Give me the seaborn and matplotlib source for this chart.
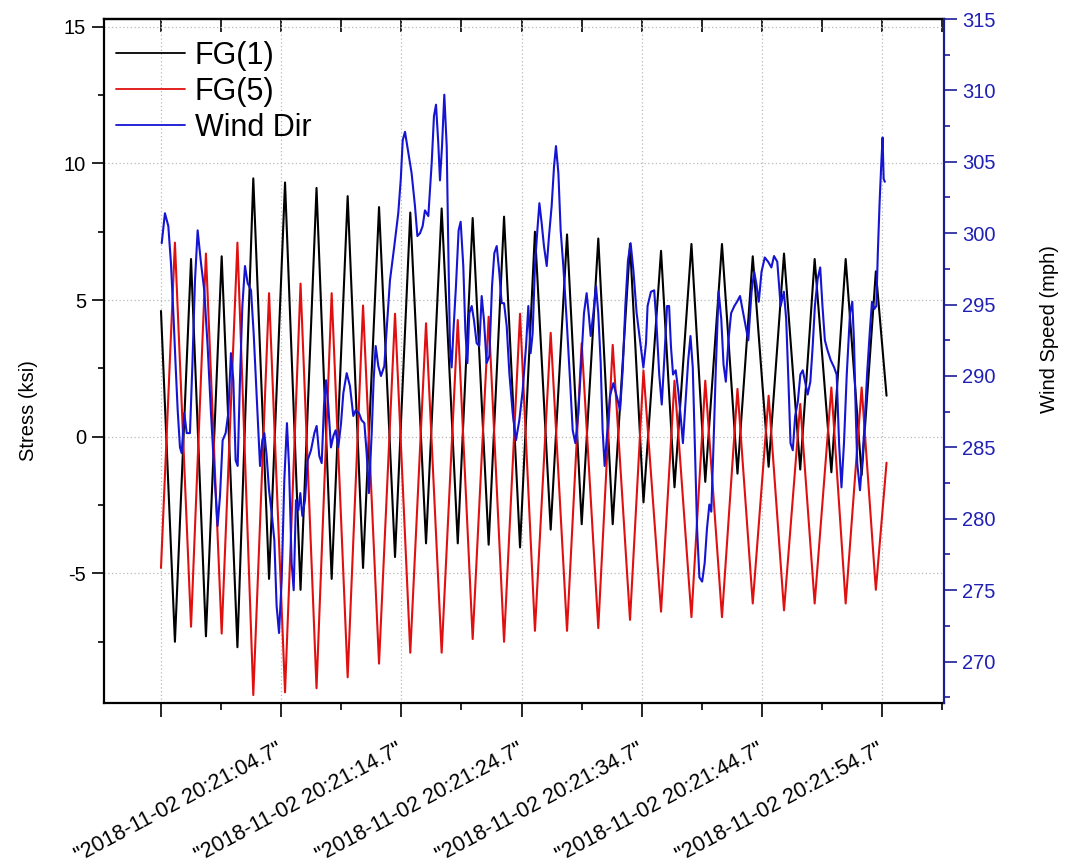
import matplotlib
matplotlib.use("Agg")
import matplotlib.pyplot as plt
from matplotlib.lines import Line2D
from matplotlib.ticker import MultipleLocator, FixedLocator, NullFormatter
from matplotlib.transforms import ScaledTranslation, blended_transform_factory
import seaborn as sns

# Seconds after 2018-11-02 20:21:04.7 of each stress peak / trough
cycle_t = [0.00, 1.16, 2.50, 3.74, 5.05, 6.36, 7.68, 8.99, 10.32, 11.61,
           12.94, 14.20, 15.53, 16.81, 18.14, 19.47, 20.74, 22.05, 23.35, 24.69,
           25.93, 27.26, 28.54, 29.87, 31.11, 32.42, 33.78, 35.00, 36.38, 37.58,
           39.02, 40.14, 41.60, 42.72, 44.13, 45.28, 46.67, 47.96, 49.23, 50.55,
           51.83, 53.18, 54.38, 55.77, 56.96, 58.29, 59.47, 60.36]

# Stress at gauge FG(1) (ksi)
fg1 = [4.6, -7.5, 6.5, -7.3, 6.6, -7.7, 9.45, -5.2, 9.3, -5.6,
       9.1, -5.2, 8.8, -4.8, 8.4, -4.4, 8.2, -3.9, 8.35, -3.9,
       8.0, -3.95, 8.05, -4.05, 7.5, -3.4, 7.4, -3.2, 7.25, -3.2,
       7.05, -2.4, 6.8, -1.85, 7.05, -1.65, 7.05, -1.35, 6.6, -1.1,
       6.7, -1.2, 6.5, -1.3, 6.5, -1.4, 6.05, 1.5]

# Stress at gauge FG(5) (ksi)
fg5 = [-4.8, 7.1, -6.95, 6.7, -7.2, 7.1, -9.45, 5.25, -9.35, 5.6,
       -9.2, 5.25, -8.8, 4.8, -8.3, 4.5, -7.9, 4.15, -7.9, 4.27,
       -7.4, 4.39, -7.5, 4.5, -7.1, 3.8, -7.1, 3.42, -7.0, 3.36,
       -6.7, 2.42, -6.4, 2.05, -6.6, 2.05, -6.6, 1.75, -6.1, 1.5,
       -6.35, 1.2, -6.1, 1.8, -6.1, 1.8, -5.6, -0.95]

# Wind record: seconds after 20:21:04.7 and direction reading
wind_t = [0.06, 0.33, 0.61, 0.83, 1.03, 1.22, 1.39, 1.58, 1.72, 1.94,
          2.14, 2.41, 2.61, 2.83, 3.05, 3.33, 3.60, 3.88, 4.16, 4.44,
          4.71, 4.91, 5.13, 5.38, 5.60, 5.82, 6.02, 6.21, 6.38, 6.57,
          6.77, 6.99, 7.21, 7.49, 7.71, 7.96, 8.24, 8.43, 8.60, 8.79,
          8.99, 9.21, 9.43, 9.62, 9.82, 10.04, 10.26, 10.48, 10.65, 10.87,
          11.04, 11.23, 11.43, 11.59, 11.76, 11.98, 12.20, 12.48, 12.76, 12.95,
          13.17, 13.37, 13.56, 13.73, 13.92, 14.14, 14.34, 14.53, 14.75, 14.98,
          15.17, 15.45, 15.72, 16.00, 16.20, 16.47, 16.69, 16.92, 17.11, 17.30,
          17.53, 17.69, 17.86, 18.08, 18.30, 18.58, 18.77, 19.05, 19.41, 19.74,
          19.95, 20.11, 20.30, 20.58, 20.85, 21.13, 21.33, 21.55, 21.77, 21.96,
          22.24, 22.52, 22.71, 22.88, 23.07, 23.21, 23.38, 23.57, 23.77, 23.90,
          24.04, 24.18, 24.32, 24.54, 24.76, 24.93, 25.15, 25.32, 25.49, 25.65,
          25.85, 26.04, 26.26, 26.48, 26.68, 26.87, 27.09, 27.32, 27.54, 27.73,
          27.93, 28.15, 28.34, 28.54, 28.76, 28.98, 29.26, 29.53, 29.81, 30.09,
          30.37, 30.56, 30.75, 30.92, 31.11, 31.31, 31.48, 31.67, 31.86, 32.09,
          32.28, 32.50, 32.70, 32.86, 33.06, 33.25, 33.47, 33.75, 34.03, 34.25,
          34.47, 34.72, 35.00, 35.19, 35.41, 35.58, 35.75, 35.97, 36.19, 36.38,
          36.58, 36.74, 36.91, 37.13, 37.35, 37.63, 37.91, 38.19, 38.41, 38.63,
          38.85, 39.07, 39.30, 39.57, 39.85, 40.13, 40.35,
          40.48, 40.76, 41.03, 41.22, 41.45, 41.66, 41.88, 42.10, 42.27, 42.43,
          42.60, 42.82, 43.04, 43.23, 43.42, 43.64, 43.86, 44.05, 44.24, 44.41,
          44.60, 44.79, 45.02, 45.23, 45.42, 45.62, 45.78, 45.97, 46.16, 46.39,
          46.61, 46.80, 46.99, 47.21, 47.43, 47.70, 47.92, 48.17, 48.44, 48.64,
          48.86, 49.13, 49.35, 49.54, 49.73, 49.96, 50.23, 50.51, 50.78, 51.00,
          51.27, 51.55, 51.82, 52.01, 52.20, 52.37, 52.56, 52.76, 52.98, 53.19,
          53.39, 53.58, 53.80, 54.02, 54.21, 54.40, 54.63, 54.84, 55.03, 55.23,
          55.45, 55.72, 56.00, 56.21, 56.41, 56.61, 56.82, 57.05, 57.32, 57.51,
          57.65, 57.79, 57.92, 58.15, 58.34, 58.53, 58.74, 58.96, 59.15, 59.35,
          59.51, 59.63, 59.78, 59.93, 60.03, 60.12, 60.22]

wind_dir = [299.3, 301.4, 300.5, 297.9, 294.4, 290.7, 287.6, 285.0, 284.6, 287.4,
            286.0, 286.0, 290.7, 296.7, 300.2, 297.9, 296.0, 292.1, 287.4, 283.2,
            279.5, 281.6, 285.5, 286.0, 287.4, 291.6, 289.7, 284.1, 283.7, 289.7,
            294.9, 297.7, 296.5, 296.0, 293.0, 288.6, 283.7, 285.5, 286.0, 284.4,
            282.0, 280.4, 278.5, 273.9, 272.0, 275.7, 282.7, 286.7, 283.7, 276.9,
            275.0, 281.3, 280.6, 281.8, 280.2, 281.3, 284.1, 284.8, 286.0, 286.5,
            284.4, 283.9, 287.9, 289.7, 287.9, 285.0, 285.8, 286.2, 285.0, 286.7,
            288.8, 290.2, 289.3, 287.2, 287.6, 287.4, 286.9, 286.7, 284.6, 281.8,
            286.0, 289.7, 292.1, 290.7, 290.0, 290.7, 293.2, 296.7, 299.1, 301.4,
            303.8, 306.5, 307.1, 305.6, 304.2, 301.9, 299.8, 300.0, 300.5, 301.6,
            301.2, 304.9, 308.2, 309.0, 306.3, 303.7, 306.1, 309.7, 306.1, 299.1,
            292.1, 290.6, 293.0, 296.3, 300.2, 300.8, 297.7, 293.2, 290.9, 294.4,
            294.9, 293.9, 292.3, 292.1, 295.6, 293.9, 290.9, 291.4, 296.3, 298.6,
            299.1, 297.2, 295.1, 295.1, 293.5, 290.2, 287.4, 285.5, 286.9, 289.0,
            292.1, 294.9, 291.6, 293.0, 297.7, 300.2, 302.1, 300.7, 299.1, 297.7,
            299.8, 301.9, 304.7, 306.1, 304.2, 300.2, 297.7, 293.9, 289.7, 286.2,
            285.3, 287.4, 291.6, 294.4, 295.8, 294.4, 292.8, 294.4, 296.3, 294.4,
            290.9, 286.2, 283.7, 286.2, 288.6, 289.5, 288.6, 287.6, 290.4, 294.9,
            298.1, 299.3, 297.4, 294.4, 292.5, 290.6, 292.3,
            294.9, 295.9, 296.0, 293.7, 290.1, 288.0, 291.3, 294.9, 294.9, 292.0,
            290.1, 290.4, 288.9, 287.2, 285.3, 288.2, 291.1, 292.8, 290.6, 285.3,
            279.3, 275.9, 275.6, 276.9, 279.3, 281.0, 280.5, 285.3, 290.6, 295.9,
            294.0, 290.8, 289.6, 292.5, 294.4, 294.9, 295.2, 295.6, 294.4, 293.5,
            292.5, 295.9, 297.3, 296.4, 295.2, 297.3, 298.3, 298.0, 297.6, 298.4,
            298.0, 294.9, 295.9, 294.0, 289.6, 285.3, 284.8, 287.2, 288.2, 290.1,
            290.4, 289.6, 288.7, 289.6, 292.0, 294.9, 296.8, 297.6, 294.9, 292.5,
            291.8, 291.1, 290.6, 290.1, 285.3, 282.2, 285.3, 290.1, 294.4, 295.2,
            292.5, 287.7, 283.9, 282.0, 284.1, 286.5, 290.1, 293.0, 295.2, 294.7,
            294.9, 298.5, 302.1, 305.0, 306.7, 303.8, 303.6]

tick_seconds = [0, 10, 20, 30, 40, 50, 60]
tick_labels = ['"2018-11-02 20:21:04.7"', '"2018-11-02 20:21:14.7"',
               '"2018-11-02 20:21:24.7"', '"2018-11-02 20:21:34.7"',
               '"2018-11-02 20:21:44.7"', '"2018-11-02 20:21:54.7"', '']
series_names = ["FG(1)", "FG(5)", "Wind Dir"]

BLACK = "#000000"
RED = "#e01010"
BLUE = "#1414d2"
AXIS_BLUE = "#1c1c96"
LABEL_BLUE = "#2020b4"
GRID = "#b9b9b9"

sns.set_theme(style="white")
plt.rcParams["font.family"] = ["Liberation Sans", "DejaVu Sans"]
plt.rcParams["axes.unicode_minus"] = False
for key in ["text.color", "axes.labelcolor", "xtick.color", "ytick.color"]:
    plt.rcParams[key] = BLACK

fig = plt.figure(figsize=(10.7, 8.65), dpi=100)
ax = fig.add_axes([104 / 1070, 162 / 865, 840 / 1070, 684 / 865])
ax2 = ax.twinx()

sns.lineplot(x=cycle_t, y=fg1, ax=ax, color=BLACK, linewidth=1.5, legend=False)
sns.lineplot(x=cycle_t, y=fg5, ax=ax, color=RED, linewidth=1.5, legend=False)
sns.lineplot(x=wind_t, y=wind_dir, ax=ax2, color=BLUE, linewidth=1.5, legend=False)

ax.set_xlim(-4.74, 65.14)
ax.set_ylim(-9.74, 15.28)
ax2.set_ylim(267.1, 315.0)

# bottom axis: dated ticks every 10 s, minor every 5 s
ax.xaxis.set_major_locator(FixedLocator(tick_seconds))
ax.xaxis.set_minor_locator(MultipleLocator(5))
ax.xaxis.set_major_formatter(NullFormatter())
ax.set_xlabel("")
label_tf = blended_transform_factory(ax.transData, ax.transAxes) + \
    ScaledTranslation(18 / 100, -36 / 100, fig.dpi_scale_trans)
for sec, text in zip(tick_seconds, tick_labels):
    ax.text(sec, 0, text, transform=label_tf, rotation=28, ha="center",
            va="top", fontsize=15.5, color=BLACK)

ax.yaxis.set_major_locator(MultipleLocator(5))
ax.yaxis.set_minor_locator(MultipleLocator(2.5))
ax.tick_params(axis="x", which="both", bottom=True, top=False, direction="out",
               width=1.2, colors=BLACK)
ax.tick_params(axis="x", which="major", length=10)
ax.tick_params(axis="x", which="minor", length=5)
ax.tick_params(axis="y", which="both", left=True, right=False, direction="out",
               width=1.2, labelsize=14.5, pad=4)
ax.tick_params(axis="y", which="major", length=9)
ax.tick_params(axis="y", which="minor", length=4.5)

# inward ticks along the top edge
top = ax.secondary_xaxis("top")
top.set_xticks(list(range(0, 66, 5)))
top.tick_params(direction="in", length=9, width=1.2, labeltop=False)
top.spines["top"].set_linewidth(1.6)

ax2.yaxis.set_major_locator(MultipleLocator(5))
ax2.yaxis.set_minor_locator(MultipleLocator(2.5))
ax2.tick_params(axis="y", which="both", right=True, left=False, direction="out",
                width=1.2, color=AXIS_BLUE, labelcolor=LABEL_BLUE,
                labelsize=14.5, pad=4)
ax2.tick_params(axis="y", which="major", length=9)
ax2.tick_params(axis="y", which="minor", length=4.5)

for name in ["left", "bottom", "top"]:
    ax.spines[name].set_color(BLACK)
    ax.spines[name].set_linewidth(1.6)
ax.spines["right"].set_visible(False)
for name in ["left", "bottom", "top"]:
    ax2.spines[name].set_visible(False)
ax2.spines["right"].set_color(AXIS_BLUE)
ax2.spines["right"].set_linewidth(1.6)

ax.grid(True, which="major", color=GRID, linestyle=(0, (1, 2)), linewidth=0.9)
ax2.grid(False)

ax.set_ylabel("Stress (ksi)", fontsize=14.5)
ax.yaxis.set_label_coords(-0.078, 0.427)
ax2.set_ylabel("Wind Speed (mph)", fontsize=14.5)
ax2.yaxis.set_label_coords(1.114, 0.547)

handles = [Line2D([], [], color=c, linewidth=1.3) for c in (BLACK, RED, BLUE)]
ax.legend(handles, series_names, loc="upper left", bbox_to_anchor=(0.0143, 0.968),
          frameon=False, fontsize=22, handlelength=2.25, handletextpad=0.32,
          labelspacing=0.2, borderpad=0, borderaxespad=0)

fig.savefig("out.png", dpi=100)
